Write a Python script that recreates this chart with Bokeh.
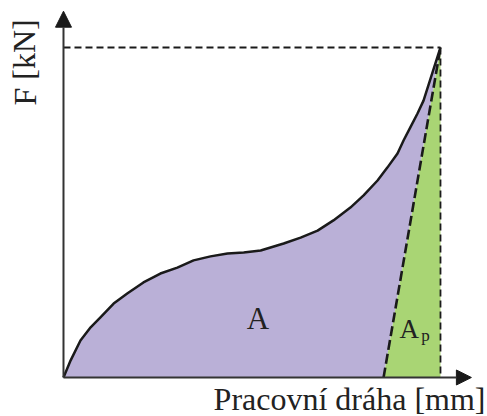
from bokeh.plotting import figure
from bokeh.models import Arrow, NormalHead, Label
from bokeh.embed import file_html
from bokeh.resources import INLINE

# Force–displacement curve (schematic units: displacement mm, force kN)
x_curve = [0, 0.19, 0.45, 0.72, 0.98, 1.33, 1.70, 2.12, 2.57, 3.02, 3.45, 3.90,
           4.35, 4.78, 5.23, 5.84, 6.29, 6.74, 7.16, 7.61, 7.96, 8.33, 8.59,
           8.86, 9.02, 9.20, 9.39, 9.55, 10.0]
f_curve = [0, 0.52, 1.12, 1.52, 1.82, 2.24, 2.55, 2.88, 3.15, 3.33, 3.55, 3.67,
           3.76, 3.79, 3.85, 4.06, 4.24, 4.45, 4.76, 5.15, 5.52, 5.97, 6.36,
           6.79, 7.18, 7.58, 8.00, 8.39, 10.0]
x_unload = 8.49   # elastic unloading line meets the x axis here
x_axis_end = 10.82
y_axis_end = 11.1

W, H = 487, 416
p = figure(width=W, height=H, output_backend="svg", toolbar_location=None,
           x_range=(-1.671, 11.247), y_range=(-1.182, 11.424),
           min_border=0, min_border_left=0, min_border_right=0,
           min_border_top=0, min_border_bottom=0)
p.axis.visible = False
p.grid.visible = False
p.outline_line_color = None
p.background_fill_color = "white"
p.border_fill_color = "white"

x_peak, f_peak = x_curve[-1], f_curve[-1]

# Area A (purple)
p.patch(x_curve + [x_unload], f_curve + [0], fill_color="#bab0d7", line_color=None)
# Area Ap (green)
p.patch([x_unload, x_peak, x_peak], [0, f_peak, 0], fill_color="#a9d574", line_color=None)

# Dashed helper lines
p.line([0, x_peak], [f_peak, f_peak], line_color="#1a1a1a", line_width=1.8, line_dash="7 4")
p.line([x_peak, x_peak], [f_peak, 0], line_color="#1a1a1a", line_width=1.8, line_dash="7 4")
p.line([x_unload, x_peak], [0, f_peak], line_color="#1a1a1a", line_width=2.6, line_dash="10 4")
# Curve
p.line(x_curve, f_curve, line_color="#1a1a1a", line_width=2.5, line_join="round")

# Axes with arrows
p.add_layout(Arrow(x_start=0, y_start=0, x_end=0, y_end=y_axis_end, line_width=2,
                   line_color="#333333",
                   end=NormalHead(size=16, fill_color="#1a1a1a", line_color="#1a1a1a")))
p.add_layout(Arrow(x_start=0, y_start=0, x_end=x_axis_end, y_end=0, line_width=2,
                   line_color="#333333",
                   end=NormalHead(size=15, fill_color="#1a1a1a", line_color="#1a1a1a")))

font = "Liberation Serif"
tc = "#222222"
p.add_layout(Label(x=42, y=311, x_units="screen", y_units="screen", text="F [kN]",
                   angle=1.5708, text_font=font, text_font_size="32px",
                   text_align="left", text_baseline="bottom", text_color=tc))
p.add_layout(Label(x=485, y=0, x_units="screen", y_units="screen",
                   text="Pracovní dráha [mm]", text_font=font, text_font_size="32px",
                   text_align="right", text_baseline="bottom", text_color=tc))
p.add_layout(Label(x=5.16, y=1.27, text="A", text_font=font, text_font_size="31px",
                   text_align="center", text_baseline="bottom", text_color=tc))
p.add_layout(Label(x=9.17, y=1.01, text="A", text_font=font, text_font_size="27px",
                   text_align="center", text_baseline="bottom", text_color=tc))
p.add_layout(Label(x=9.60, y=0.98, text="p", text_font=font, text_font_size="17px",
                   text_align="center", text_baseline="bottom", text_color=tc))

open("out.html", "w").write(file_html(p, INLINE))
